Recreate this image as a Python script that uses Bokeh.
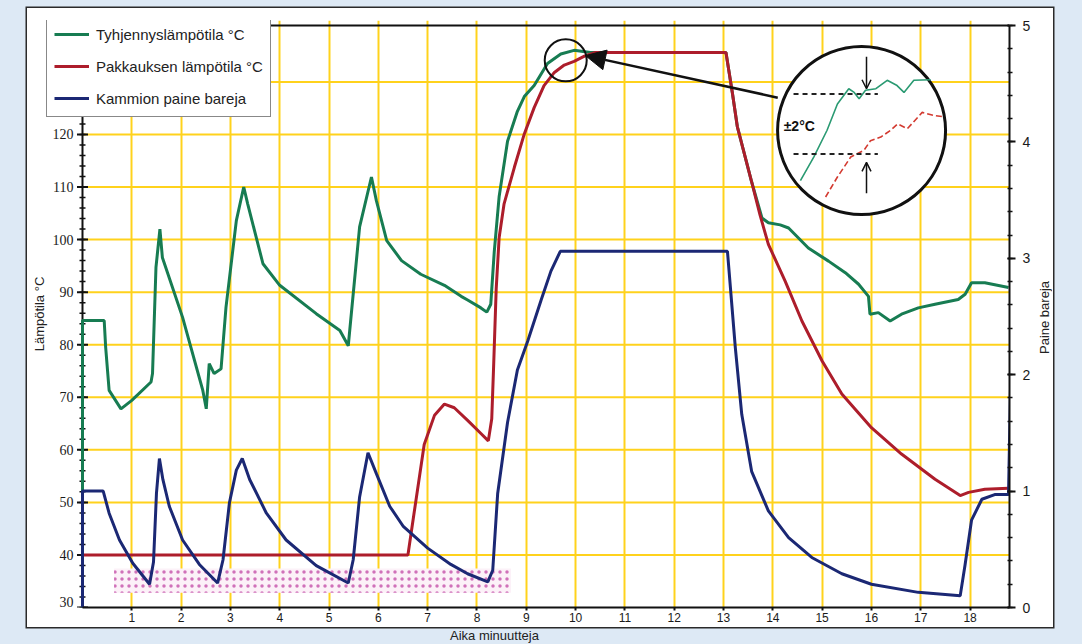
from bokeh.plotting import figure
from bokeh.models import (Range1d, LinearAxis, FixedTicker, Legend, LegendItem,
                          Label, Arrow, NormalHead, OpenHead, Div)
from bokeh.layouts import column, row
from bokeh.embed import file_html
from bokeh.resources import INLINE

# ---------------- data ----------------
x_ticks = list(range(1, 19))
temp_ticks = list(range(30, 121, 10))
temp_tick_labels = [str(t) for t in temp_ticks]
temp_minor_ticks = list(range(30, 141, 2))
temp_grid = list(range(40, 131, 10))
pressure_ticks = [0, 1, 2, 3, 4, 5]

green_x = [0.0, 0.0, 0.44, 0.47, 0.54, 0.78, 1.0, 1.39, 1.42, 1.49, 1.57, 1.62, 2.03, 2.44,
           2.51, 2.57, 2.67, 2.81, 2.91, 3.12, 3.27, 3.35, 3.66, 4.0, 4.74, 5.22, 5.39, 5.62,
           5.86, 5.96, 6.17, 6.47, 6.86, 7.34, 7.68, 7.81, 8.08, 8.2, 8.28, 8.35, 8.45, 8.62,
           8.82, 8.96, 9.16, 9.43, 9.7, 9.97, 10.3, 13.05, 13.18, 13.28, 13.57, 13.78, 13.91,
           14.15, 14.32, 14.72, 15.13, 15.47, 15.74, 15.94, 15.97, 16.14, 16.38, 16.61, 16.95,
           17.29, 17.76, 17.9, 18.03, 18.3, 18.78]
green_t = [30.0, 84.6, 84.6, 79.5, 71.3, 67.8, 69.4, 72.9, 74.5, 94.7, 102.0, 96.6, 85.2, 71.3,
           67.8, 76.4, 74.5, 75.4, 87.1, 103.6, 110.0, 106.8, 95.4, 91.3, 85.9, 82.7, 79.8, 102.4,
           111.9, 107.4, 99.8, 96.0, 93.4, 91.3, 89.2, 88.5, 87.0, 86.2, 87.7, 97.6, 108.2, 118.7,
           124.4, 127.2, 129.3, 133.5, 135.3, 136.0, 135.6, 135.6, 127.9, 121.5, 111.0, 104.1, 103.2,
           102.8, 102.2, 98.4, 95.9, 93.7, 91.5, 89.2, 85.8, 86.1, 84.5, 85.8, 87.0,
           87.7, 88.6, 89.6, 91.8, 91.8, 90.9]

red_x = [0.0, 6.6, 6.73, 6.93, 7.14, 7.34, 7.54, 7.81, 8.08, 8.23, 8.3, 8.34, 8.39, 8.45, 8.55,
         8.76, 8.96, 9.16, 9.36, 9.57, 9.77, 9.97, 10.18, 10.4, 13.05, 13.18, 13.28, 13.57, 13.74,
         13.91, 14.25, 14.59, 15.0, 15.4, 16.0, 16.61, 17.29, 17.8, 17.97, 18.3, 18.78]
red_t = [40.0, 40.0, 48.3, 61.0, 66.6, 68.7, 68.0, 65.6, 63.1, 61.7, 65.9, 76.5, 90.6, 100.4, 106.8,
         113.8, 120.1, 125.1, 129.3, 131.8, 133.2, 133.9, 134.9, 135.6, 135.6, 127.9, 121.5, 111.0, 104.7,
         99.1, 92.1, 84.5, 76.9, 70.6, 64.2, 59.2, 54.4, 51.3, 51.9, 52.5, 52.7]

blue_x = [0.0, 0.0, 0.42, 0.54, 0.75, 1.02, 1.36, 1.44, 1.5, 1.56, 1.63, 1.76, 2.03, 2.37, 2.74,
          2.85, 2.98, 3.12, 3.24, 3.39, 3.73, 4.13, 4.74, 5.39, 5.49, 5.62, 5.79, 5.96, 6.23, 6.5,
          7.0, 7.47, 7.81, 8.22, 8.32, 8.42, 8.62, 8.82, 9.03, 9.3, 9.5, 9.69, 13.08, 13.24, 13.37,
          13.57, 13.91, 14.32, 14.79, 15.4, 16.0, 16.95, 17.8, 17.9, 18.03, 18.24, 18.5, 18.78,
          18.86, 18.86]
blue_p = [0.0, 1.0, 1.0, 0.81, 0.58, 0.38, 0.20, 0.39, 0.98, 1.28, 1.10, 0.87, 0.58, 0.37, 0.21,
          0.41, 0.90, 1.18, 1.28, 1.10, 0.81, 0.58, 0.36, 0.21, 0.41, 0.95, 1.33, 1.15, 0.87, 0.70,
          0.51, 0.37, 0.29, 0.22, 0.32, 0.98, 1.59, 2.04, 2.29, 2.64, 2.89, 3.06, 3.06, 2.23, 1.66,
          1.17, 0.83, 0.60, 0.43, 0.29, 0.20, 0.13, 0.10, 0.37, 0.75, 0.93, 0.97, 0.97,
          2.78, 0.0]

# dotted vacuum band (minutes, °C)
band_x = [0.64, 8.69]
band_t = [32.8, 37.4]

# magnified inset (minutes, °C)
inset_center = [15.80, 120.75]
inset_green_x = [14.56, 14.83, 15.10, 15.31, 15.54, 15.65, 15.75, 15.88, 16.09, 16.32, 16.52, 16.66, 16.86, 17.20]
inset_green_t = [111.2, 115.7, 120.8, 125.8, 128.7, 128.0, 126.8, 128.4, 128.7, 130.3, 129.3, 128.0, 130.3, 130.4]
inset_red_x = [15.07, 15.31, 15.58, 15.85, 15.98, 16.19, 16.39, 16.53, 16.73, 17.03, 17.27, 17.44]
inset_red_t = [108.1, 111.9, 115.7, 117.0, 118.8, 119.5, 120.8, 122.0, 121.1, 124.2, 123.6, 123.4]
inset_dash_x = [14.42, 16.13]
inset_dash_t = [127.7, 116.3]
inset_arrow_x = 15.90
inset_arrow_down = [134.8, 128.7]
inset_arrow_up = [108.8, 114.7]
inset_text_pos = [14.22, 121.7]
peak_mark = [9.80, 134.1]
pointer_from = [14.10, 127.0]
pointer_to = [10.20, 135.0]

# ---------------- geometry ----------------
X_START, X_END = -0.730, 18.8          # frame extends left of the temperature axis (legend overhang)
T_MIN, T_MAX = 30.0, 141.68
P_MIN, P_MAX = 0.0, 5.043
T_AXIS_TOP = 140.8

FONT = "Liberation Sans"
GREEN = "#177c52"
RED = "#ad1d2b"
BLUE = "#1b2874"
YELLOW = "#ffd21c"
PAGE_BG = "#dde9f5"
INK = "#111111"

W, H = 1010, 619
p = figure(width=W, height=H, output_backend="svg", toolbar_location=None,
           x_range=Range1d(X_START, X_END), y_range=Range1d(T_MIN, T_MAX),
           min_border_left=19, min_border_right=28, min_border_top=12, min_border_bottom=20)
p.margin = 0
p.border_fill_color = "white"
p.background_fill_color = "white"
p.outline_line_color = None
p.extra_y_ranges = {"pr": Range1d(P_MIN, P_MAX)}

# vertical grid (minutes)
p.xgrid.ticker = FixedTicker(ticks=x_ticks)
p.xgrid.grid_line_color = YELLOW
p.xgrid.grid_line_width = 2
p.ygrid.visible = False
# horizontal grid only to the right of the temperature axis
p.segment(x0=[0.0] * len(temp_grid), x1=[X_END] * len(temp_grid), y0=temp_grid, y1=temp_grid,
          line_color=YELLOW, line_width=2, level="underlay")

# left panel axis: only carries the title
ly = p.yaxis[0]
ly.ticker = FixedTicker(ticks=[])
ly.axis_line_color = None
ly.major_tick_out = 0
ly.major_tick_in = 0
ly.minor_tick_out = 0
ly.minor_tick_in = 0
ly.axis_label = "Lämpötila °C"
ly.axis_label_text_font = FONT
ly.axis_label_text_font_size = "13px"
ly.axis_label_text_font_style = "normal"
ly.axis_label_text_color = "#222222"
ly.axis_label_standoff = 0

# temperature axis at x = 0
p.line([0.0, 0.0], [T_MIN, T_AXIS_TOP], line_color=INK, line_width=2)
p.scatter(x=[0.0] * len(temp_minor_ticks), y=temp_minor_ticks, marker="dash", size=6,
          line_color=INK, line_width=1.5)
p.scatter(x=[0.0] * len(temp_ticks), y=temp_ticks, marker="dash", size=11,
          line_color=INK, line_width=2)
# the lowest label is lifted a little so it is not cut by the frame edge
label_lift = [-6 if t == T_MIN else 0 for t in temp_ticks]
p.text(x=[0.0] * len(temp_ticks), y=temp_ticks, text=temp_tick_labels, x_offset=-9,
       y_offset=label_lift, text_align="right", text_baseline="middle", text_font=FONT,
       text_font_size="14px", text_color="#1a1a1a")

# top border of the chart area
p.line([0.0, X_END], [5.0, 5.0], y_range_name="pr", line_color=INK, line_width=2)

# x axis
xa = p.xaxis[0]
xa.ticker = FixedTicker(ticks=x_ticks)
xa.bounds = (0, X_END)
xa.major_tick_out = 3
xa.major_tick_in = 0
xa.minor_tick_out = 0
xa.minor_tick_in = 0
xa.major_label_standoff = 2
xa.major_label_text_font_size = "12px"

# right axis (pressure)
ra = LinearAxis(y_range_name="pr", bounds=(0, 5),
                ticker=FixedTicker(ticks=pressure_ticks, minor_ticks=[i * 0.2 for i in range(26)]))
ra.major_tick_out = 6
ra.major_tick_in = 2
ra.minor_tick_out = 3
ra.minor_tick_in = 2
ra.major_label_text_font_size = "14px"
ra.major_label_standoff = 7
p.add_layout(ra, "right")

for ax in (ra, xa):
    ax.axis_line_color = INK
    ax.axis_line_width = 2
    ax.major_tick_line_color = INK
    ax.major_tick_line_width = 2
    ax.minor_tick_line_color = INK
    ax.minor_tick_line_width = 1.5
    ax.major_label_text_font = FONT
    ax.major_label_text_color = "#1a1a1a"

# dotted band
p.quad(left=[band_x[0]], right=[band_x[1]], bottom=[band_t[0]], top=[band_t[1]],
       fill_color="#fcf1f8", fill_alpha=1.0, line_color=None,
       hatch_pattern="dot", hatch_color="#d071b9", hatch_scale=7, hatch_weight=1.8)

# series
rg = p.line(green_x, green_t, line_color=GREEN, line_width=3)
rr = p.line(red_x, red_t, line_color=RED, line_width=3)
rb = p.line(blue_x, blue_p, y_range_name="pr", line_color=BLUE, line_width=3)

# inset
p.scatter(x=[inset_center[0]], y=[inset_center[1]], size=168, marker="circle",
          fill_color="white", line_color=INK, line_width=3)
p.line(inset_green_x, inset_green_t, line_color="#2a9a72", line_width=1.6)
p.line(inset_red_x, inset_red_t, line_color="#d33a30", line_width=1.6, line_dash="6 3")
for t in inset_dash_t:
    p.line(inset_dash_x, [t, t], line_color="#222222", line_width=2, line_dash="5 4")
p.add_layout(Arrow(end=OpenHead(size=9, line_width=1.5, line_color=INK),
                   x_start=inset_arrow_x, y_start=inset_arrow_down[0],
                   x_end=inset_arrow_x, y_end=inset_arrow_down[1],
                   line_width=1.5, line_color=INK))
p.add_layout(Arrow(end=OpenHead(size=9, line_width=1.5, line_color=INK),
                   x_start=inset_arrow_x, y_start=inset_arrow_up[0],
                   x_end=inset_arrow_x, y_end=inset_arrow_up[1],
                   line_width=1.5, line_color=INK))
p.add_layout(Label(x=inset_text_pos[0], y=inset_text_pos[1], text="±2°C",
                   text_font=FONT, text_font_size="14px", text_font_style="bold",
                   text_baseline="middle", text_color=INK))

# peak marker and pointer
p.scatter(x=[peak_mark[0]], y=[peak_mark[1]], size=42, marker="circle",
          fill_color=None, line_color=INK, line_width=2)
p.add_layout(Arrow(end=NormalHead(size=20, fill_color=INK, line_color=INK),
                   x_start=pointer_from[0], y_start=pointer_from[1],
                   x_end=pointer_to[0], y_end=pointer_to[1],
                   line_width=2.5, line_color=INK))

# legend
legend = Legend(items=[LegendItem(label="Tyhjennyslämpötila °C", renderers=[rg]),
                       LegendItem(label="Pakkauksen lämpötila °C", renderers=[rr]),
                       LegendItem(label="Kammion paine bareja", renderers=[rb])],
                location=(0, 490))
legend.margin = 0
legend.padding = 7
legend.spacing = 10
legend.label_height = 22
legend.glyph_height = 22
legend.glyph_width = 35
legend.label_standoff = 7
legend.label_text_font = FONT
legend.label_text_font_size = "15px"
legend.label_text_color = "#222222"
legend.border_line_color = INK
legend.border_line_width = 1.5
legend.background_fill_color = "white"
legend.background_fill_alpha = 1.0
p.add_layout(legend)

# right title: a white strip with the text reading bottom-to-top
rtitle = Div(text=('<div style="height:%dpx; width:16px; display:flex; align-items:center; '
                   'justify-content:center; writing-mode:vertical-rl; transform:rotate(180deg); '
                   'font-family:%s; font-size:13px; color:#222222; white-space:nowrap;">'
                   'Paine bareja</div>') % (H, FONT),
             width=16, height=H, styles={"background-color": "white"})
rtitle.margin = 0

chart = row(p, rtitle, spacing=0)
chart.margin = (8, 0, 0, 27)
chart.styles = {"box-shadow": "0 0 0 1.5px #2a2a2a", "background-color": "white"}

xlabel = Div(text="Aika minuutteja", width=200, height=16,
             styles={"font-family": FONT, "font-size": "13px", "color": "#222222",
                     "padding-top": "2px", "line-height": "14px"})
xlabel.margin = (0, 0, 0, 450)

layout = column(chart, xlabel, spacing=0)
html = file_html(layout, INLINE)
css = ("<style>html, body {margin:0 !important; padding:0 !important; "
       "background-color:%s !important;}</style>" % PAGE_BG)
html = html.replace("</head>", css + "</head>", 1)
open("out.html", "w").write(html)
